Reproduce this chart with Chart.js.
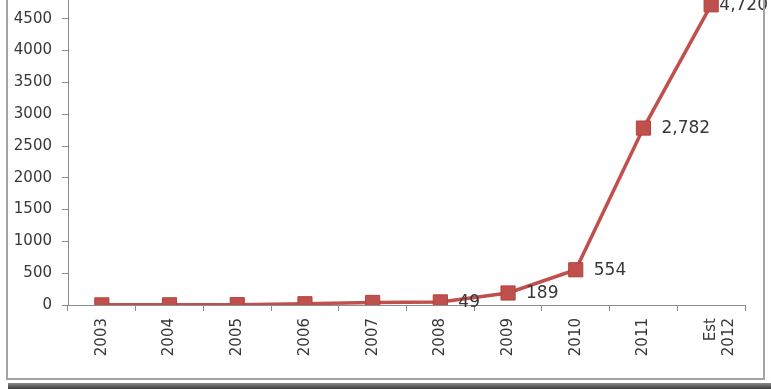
<!DOCTYPE html>
<html lang="en">
<head>
    <meta charset="UTF-8">
    <title>Growth 2003 - Est 2012</title>
    <style>
        html, body {
            margin: 0;
            padding: 0;
            background: #fff;
        }
        .wrap {
            position: relative;
            width: 771px;
            height: 389px;
            overflow: hidden;
            background: #fff;
        }
        .chart-box {
            position: absolute;
            left: 0;
            top: -40px;
            width: 771px;
            height: 429px;
        }
        .frame {
            position: absolute;
            left: 6px;
            top: -10px;
            width: 755px;
            height: 386px;
            border: 2px solid #a4a4a4;
            pointer-events: none;
        }
        .shadow {
            position: absolute;
            left: 8px;
            top: 383px;
            width: 763px;
            height: 6px;
            background: linear-gradient(#8a8a8a, #3c3c3c);
        }
    </style>
</head>
<body>
    <div class="wrap">
        <div class="chart-box">
            <canvas id="growthChart" width="771" height="429"></canvas>
        </div>
        <div class="frame"></div>
        <div class="shadow"></div>
    </div>
    <script src="https://cdn.jsdelivr.net/npm/chart.js"></script>
    <script>
        const years = ['2003', '2004', '2005', '2006', '2007', '2008', '2009', '2010', '2011', ['Est', '2012']];
        const counts = [2, 3, 5, 20, 40, 49, 189, 554, 2782, 4720];
        const yTicks = [0, 500, 1000, 1500, 2000, 2500, 3000, 3500, 4000, 4500, 5000];
        const firstLabelled = 5; // values before 2008 have no label

        const red = '#c0504d';
        const textColor = '#383838';
        const axisColor = '#8c8c8c';
        const fontFamily = '"DejaVu Sans", Verdana, sans-serif';

        // draws the value next to each point, Excel "right" style
        const valueLabels = {
            id: 'valueLabels',
            afterDatasetsDraw(chart) {
                const ctx = chart.ctx;
                const meta = chart.getDatasetMeta(0);
                ctx.save();
                ctx.font = '17px ' + fontFamily;
                ctx.fillStyle = textColor;
                ctx.textAlign = 'left';
                ctx.textBaseline = 'middle';
                meta.data.forEach((pt, i) => {
                    if (i < firstLabelled) return;
                    const txt = counts[i].toLocaleString('en-US');
                    const w = ctx.measureText(txt).width;
                    // keep the text inside the frame
                    const x = Math.min(pt.x + 18, chart.width - 3 - w);
                    ctx.fillText(txt, x, pt.y + 1);
                });
                ctx.restore();
            }
        };

        new Chart(document.getElementById('growthChart'), {
            type: 'line',
            data: {
                labels: years,
                datasets: [{
                    data: counts,
                    borderColor: red,
                    borderWidth: 3.5,
                    pointStyle: 'rect',
                    pointRadius: 10,
                    pointHoverRadius: 10,
                    pointBackgroundColor: red,
                    pointBorderColor: '#b5403d',
                    pointBorderWidth: 1,
                    tension: 0
                }]
            },
            options: {
                responsive: false,
                animation: false,
                events: [],
                layout: {
                    padding: { top: 27, right: 26, bottom: 0, left: 0 }
                },
                plugins: {
                    legend: { display: false },
                    tooltip: { enabled: false }
                },
                scales: {
                    x: {
                        offset: true,
                        grid: {
                            offset: true,
                            drawOnChartArea: false,
                            drawTicks: true,
                            tickLength: 6,
                            color: axisColor
                        },
                        border: { display: true, color: axisColor, width: 1 },
                        ticks: {
                            minRotation: 90,
                            maxRotation: 90,
                            padding: 7,
                            color: textColor,
                            font: { family: fontFamily, size: 15 }
                        },
                        afterFit(scale) { scale.height = 84; }
                    },
                    y: {
                        min: 0,
                        max: 5000,
                        afterBuildTicks(scale) {
                            scale.ticks = yTicks.map(v => ({ value: v }));
                        },
                        grid: {
                            drawOnChartArea: false,
                            drawTicks: true,
                            tickLength: 6,
                            color: axisColor
                        },
                        border: { display: true, color: axisColor, width: 1 },
                        ticks: {
                            padding: 10,
                            color: textColor,
                            font: { family: fontFamily, size: 15 },
                            callback: v => String(v)
                        },
                        afterFit(scale) { scale.width = 68; }
                    }
                }
            },
            plugins: [valueLabels]
        });
    </script>
</body>
</html>
